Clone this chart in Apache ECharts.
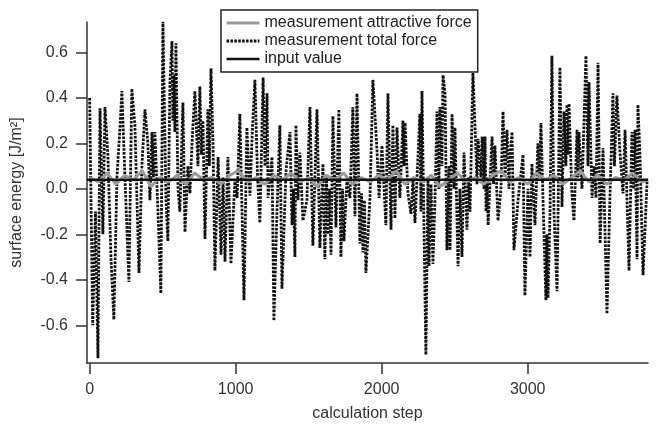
<!DOCTYPE html>
<html><head><meta charset="utf-8">
<script src="https://cdn.jsdelivr.net/npm/echarts@6/dist/echarts.min.js"></script>
<style>html,body{margin:0;padding:0;background:#fff}#c{width:662px;height:427px}</style>
</head><body><div id="c"></div><script>
// ---- data ----
const xTicks = [0, 1000, 2000, 3000];
const yTicks = [-0.6, -0.4, -0.2, 0, 0.2, 0.4, 0.6];

const totalSteps = [
0,21,40,57,71,91,105,125,146,166,187,208,221,242,269,289,310,338,358,379,399,413,427,437,447,468,488,502,523,536,550,564,570,577,584,591,605,618,639,653,673,687,701,721,742,755,766,776,790,810,820,831,845,858,
880,900,914,927,947,968,995,1010,1029,1057,1077,1098,1112,1132,1150,1166,1188,1201,1215,1222,1249,1262,1283,1303,1317,1345,1372,1386,1396,1406,1413,1427,1440,1461,1488,
1509,1529,1557,1577,1598,1611,1622,1632,1643,1653,1666,1687,1707,1721,1732,1742,1762,1783,1803,1817,1831,1851,1862,1872,1882,1892,1920,1940,1968,1982,2002,2029,2043,2064,2077,2091,2105,2125,2146,2153,2160,2180,2201,2215,2228,2262,2269,
2276,2290,2303,2317,2324,2338,2351,2365,2379,2392,2399,2413,2420,2434,2447,2461,2468,2482,2496,2502,2523,2536,2550,2564,2584,2595,2605,2625,2646,2653,2660,2680,2688,2701,2708,2715,2722,2729,2756,2766,2776,2797,2817,2831,2845,2858,2872,2879,2893,2906,2934,2961,2968,2981,
3002,3016,3029,3050,3070,3081,3091,3105,3125,3132,3139,3153,3166,3180,3201,3221,3235,3249,3262,3269,3276,3283,3303,3317,3338,3344,3351,3372,3399,3413,3420,3441,3454,3468,3482,3496,3516,3543,3564,3584,3594,3611,3632,3653,3667,3694,3714,3725,3735,3749,3755,3769,3790,3818
];
const totalValues = [
0.40,-0.60,-0.10,-0.745,0.355,-0.20,0.36,0.15,-0.30,-0.575,0.05,0.27,0.43,0.05,-0.41,0.44,0.28,-0.37,0.10,0.35,0.20,-0.05,0.25,0.05,0.25,-0.10,-0.46,0.735,-0.05,-0.23,0.47,0.65,0.30,0.50,0.25,0.64,0.00,-0.10,0.38,-0.19,0.10,-0.02,0.20,0.43,0.10,0.45,0.15,0.30,-0.22,0.35,0.10,0.53,0.20,-0.36,
0.14,-0.29,0.05,-0.32,0.14,-0.33,0.04,-0.04,0.33,-0.49,0.27,-0.03,0.22,0.48,0.05,-0.15,0.49,0.10,0.42,-0.04,0.14,-0.58,-0.10,0.28,-0.44,0.08,0.25,-0.16,0.00,-0.30,0.28,-0.05,0.16,-0.14,-0.05,
0.36,-0.25,0.35,-0.26,0.11,-0.31,0.05,-0.20,0.00,-0.29,0.32,-0.17,0.35,-0.30,0.00,-0.23,0.04,-0.04,0.36,-0.12,0.42,-0.24,-0.02,-0.28,-0.05,-0.37,-0.04,0.48,0.17,-0.04,0.19,-0.16,0.42,-0.18,0.28,-0.13,0.27,-0.04,0.30,0.10,0.29,-0.02,-0.11,0.05,-0.15,0.33,-0.10,
0.43,-0.18,-0.73,0.05,-0.34,0.02,-0.33,-0.05,0.34,0.00,0.36,0.10,0.50,0.42,-0.27,0.10,-0.27,0.33,0.00,0.27,-0.34,0.00,-0.30,0.16,-0.18,0.05,-0.10,0.51,0.16,0.02,0.22,0.05,0.23,0.00,0.23,-0.10,0.05,-0.16,0.23,0.02,0.19,-0.14,0.00,0.34,0.05,0.26,0.00,0.15,0.25,-0.27,-0.05,0.11,0.15,-0.47,
0.00,-0.30,0.11,-0.16,0.20,0.05,0.29,-0.05,-0.49,-0.20,-0.48,-0.10,0.585,-0.10,-0.45,0.535,-0.08,0.34,0.10,0.37,0.15,0.375,-0.02,-0.14,0.26,0.05,0.25,0.00,0.585,0.10,0.47,-0.04,0.10,-0.04,0.555,-0.24,0.18,-0.55,-0.02,0.42,0.10,0.41,0.16,-0.02,0.26,-0.36,0.25,0.00,0.26,-0.31,0.37,0.15,-0.38,0.04
];

const attrSteps = [
0,60,120,180,240,300,360,420,480,540,600,660,720,780,840,900,
960,1020,1080,1140,1200,1260,1320,1380,1440,1500,1560,1620,1680,1740,1800,1860,
1920,1980,2040,2100,2160,2220,2280,2340,2400,2460,2520,2580,2640,2700,2760,2820,
2880,2940,3000,3060,3120,3180,3240,3300,3360,3420,3480,3540,3600,3660,3720,3780,3820
];
const attrValues = [
0.05,0.03,0.07,0.02,0.06,0.04,0.08,0.01,0.05,0.03,0.06,0.02,0.07,0.04,0.05,0.02,
0.06,0.08,0.03,0.05,0.02,0.06,0.04,0.07,0.03,0.05,0.01,0.06,0.04,0.07,0.02,0.05,
0.03,0.06,0.04,0.08,0.02,0.05,0.03,0.06,0.01,0.04,0.07,0.03,0.05,0.02,0.06,0.08,
0.03,0.05,0.02,0.07,0.04,0.06,0.02,0.05,0.08,0.03,0.06,0.02,0.05,0.04,0.07,0.03,0.04
];

const inputSteps = [-18, 3824];
const inputValues = [0.04, 0.04];

const names = ['measurement attractive force', 'measurement total force', 'input value'];

function zip(xs, ys) { return xs.map((x, i) => [x, ys[i]]); }

const FONT = '"Liberation Sans", Arial, Helvetica, sans-serif';
const AX = '#333';

const chart = echarts.init(document.getElementById('c'), null, {renderer: 'canvas'});
chart.setOption({
  animation: false,
  backgroundColor: '#fff',
  textStyle: {fontFamily: FONT},
  grid: {left: 87, right: 14, top: 22, bottom: 58},
  legend: {
    orient: 'vertical', left: 221, top: 10,
    padding: [5, 6, 5, 4], itemGap: 2, itemWidth: 33, itemHeight: 14,
    borderColor: '#222', borderWidth: 1.5, backgroundColor: '#fff',
    itemStyle: {opacity: 0},
    lineStyle: {width: 'inherit', type: 'inherit', color: 'inherit'},
    textStyle: {fontFamily: FONT, fontSize: 16, color: '#222'},
    data: names, z: 20, selectedMode: false
  },
  xAxis: {
    type: 'value', min: -18, max: 3824,
    axisLine: {show: true, onZero: false, lineStyle: {color: AX, width: 1.5}},
    axisTick: {show: true, length: 11, customValues: xTicks, lineStyle: {color: AX, width: 1.5}},
    axisLabel: {customValues: xTicks, fontFamily: FONT, fontSize: 16, color: '#333', margin: 19,
      formatter: v => String(v)},
    splitLine: {show: false},
    name: 'calculation step', nameLocation: 'middle', nameGap: 43,
    nameTextStyle: {fontFamily: FONT, fontSize: 16, color: '#333'}
  },
  yAxis: {
    type: 'value', min: -0.766, max: 0.734,
    axisLine: {show: true, onZero: false, lineStyle: {color: AX, width: 1.5}},
    axisTick: {show: true, length: 11, customValues: yTicks, lineStyle: {color: AX, width: 1.5}},
    axisLabel: {customValues: yTicks, fontFamily: FONT, fontSize: 16, color: '#333', margin: 19,
      formatter: v => v.toFixed(1)},
    splitLine: {show: false},
    name: 'surface energy [J/m²]', nameLocation: 'middle', nameGap: 62,
    nameTextStyle: {fontFamily: FONT, fontSize: 16, color: '#333'}
  },
  series: [
    {name: names[0], type: 'line', data: zip(attrSteps, attrValues), symbol: 'none', z: 3,
     lineStyle: {color: '#9a9a9a', width: 3}, itemStyle: {color: '#9a9a9a'}},
    {name: names[1], type: 'line', data: zip(totalSteps, totalValues), symbol: 'none', z: 2,
     lineStyle: {color: '#111', width: 2.8, type: [2.6, 1.3]}, itemStyle: {color: '#111'}},
    {name: names[2], type: 'line', data: zip(inputSteps, inputValues), symbol: 'none', z: 4,
     lineStyle: {color: '#111', width: 2.5}, itemStyle: {color: '#111'}}
  ]
});
</script></body></html>
